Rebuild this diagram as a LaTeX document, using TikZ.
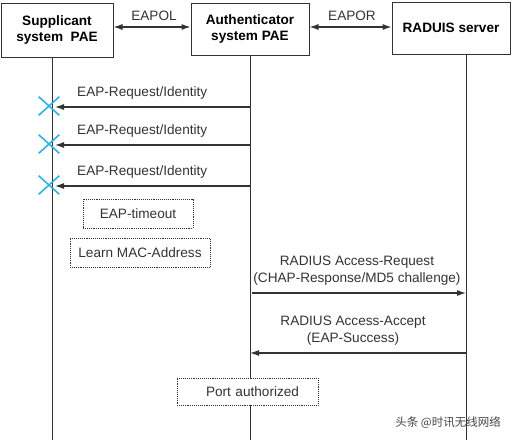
\documentclass[tikz,border=0pt]{standalone}
\usepackage{fontspec}
\setmainfont{Liberation Sans}
\newfontfamily\cjk{Noto Sans CJK SC}
\usetikzlibrary{arrows.meta,shapes.misc}
\definecolor{ln}{HTML}{333333}
\definecolor{xc}{HTML}{2EB3DA}
\tikzset{
  box/.style={draw=ln,line width=1pt,fill=white,align=center,font=\fontsize{13.6}{16.5}\selectfont\bfseries,inner sep=0pt},
  life/.style={draw=ln,line width=0.9pt},
  msg/.style={draw=ln,line width=1.1pt,-{Latex[length=9pt,width=6pt]}},
  dbl/.style={draw=ln,line width=1.1pt,{Latex[length=9pt,width=6pt]}-{Latex[length=9pt,width=6pt]}},
  lbl/.style={font=\fontsize{13.6}{16.5}\selectfont,text=ln,inner sep=0pt,align=center},
  note/.style={draw=ln,densely dotted,line width=0.9pt,font=\fontsize{13.6}{16.5}\selectfont,text=ln,inner sep=0pt},
  xmark/.style={cross out,draw=xc,line width=1.6pt,minimum width=19pt,minimum height=17pt,inner sep=0pt},
}
\begin{document}
\begin{tikzpicture}[x=1pt,y=-1pt]
\useasboundingbox (0,0) rectangle (511,440);
% boxes
\node[box,minimum width=112pt,minimum height=54pt] (sup) at (57,30) {Supplicant\\system\ \ PAE};
\node[box,minimum width=118pt,minimum height=52pt] (aut) at (250,29) {Authenticator\\system PAE};
\node[box,minimum width=118pt,minimum height=52pt] (rad) at (451,28) {RADUIS server};
% lifelines
\coordinate (s0) at (52,57);  \coordinate (s1) at (52,440);
\coordinate (a0) at (250,55); \coordinate (a1) at (250,440);
\coordinate (r0) at (466,54); \coordinate (r1) at (466,440);
\draw[life] (s0) -- (s1);
\draw[life] (a0) -- (a1);
\draw[life] (r0) -- (r1);
% top links
\draw[dbl] (sup.east |- 0,27) -- (aut.west |- 0,27);
\node[lbl] (eapol) at (154,16) {EAPOL};
\draw[dbl] (aut.east |- 0,27) -- (rad.west |- 0,27);
\node[lbl] (eapor) at (352,16) {EAPOR};
% EAP requests
\foreach \y/\n in {107/1,145/2,186/3}{
  \coordinate (ra\n) at (250,\y);
  \coordinate (rs\n) at (55,\y);
  \draw[msg] (ra\n) -- (rs\n);
  \node[lbl,anchor=west] (rl\n) at (77,\y-14) {EAP-Request/Identity};
  \node[xmark] (x\n) at (49,\y-1) {};
}
% notes
\node[note,minimum width=110pt,minimum height=29pt] (tmo) at (138,213.5) {EAP-timeout};
\node[note,minimum width=140pt,minimum height=29pt] (mac) at (140,252.5) {Learn MAC-Address};
% radius request
\coordinate (q0) at (252,293); \coordinate (q1) at (466,293);
\draw[msg] (q0) -- (q1);
\node[lbl] (ql) at (357,270.5) {RADIUS Access-Request\\(CHAP-Response/MD5 challenge)};
% radius accept
\coordinate (p0) at (466,353); \coordinate (p1) at (250,353);
\draw[msg] (p0) -- (p1);
\node[lbl] (pl) at (353,330.5) {RADIUS Access-Accept\\(EAP-Success)};
% port authorized
\node[note,fill=white,minimum width=141pt,minimum height=27pt,text width=141pt,align=center] (port) at (247.5,391.5) {\hspace*{10pt}Port authorized};
% watermark
\node[font=\cjk\fontsize{11.5}{13}\selectfont,text=ln!90,inner sep=0pt,anchor=east] (wm) at (501,423) {头条 @时讯无线网络};
\end{tikzpicture}
\end{document}
